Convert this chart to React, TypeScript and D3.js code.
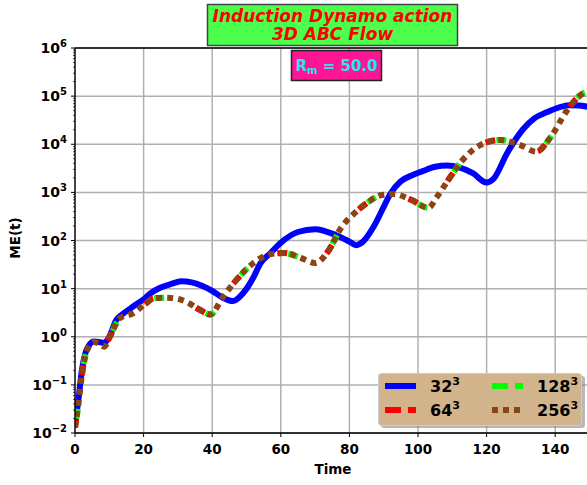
import React from 'react';
import * as d3 from 'd3';

// magnetic energy vs time
const time32 = [0, 1, 2, 3, 4, 5.5, 7, 8.5, 10, 12, 14, 16, 18, 20, 22, 25, 28, 31, 34, 37, 40, 43, 46, 49, 52, 54, 57, 60, 65, 70, 76, 80, 82, 84, 87, 90, 92, 95, 98.5, 101, 105, 108.5, 112, 116, 120, 122, 126, 130.5, 134, 137.5, 141, 144, 147, 150];
const me32 = [0.015, 0.05, 0.2, 0.45, 0.65, 0.8, 0.78, 0.74, 1.0, 2.2, 3.0, 3.8, 4.8, 6.0, 8.0, 10.5, 12.5, 14.2, 13.5, 11.5, 9.0, 6.5, 5.5, 8.0, 17, 33, 55, 90, 150, 172, 130, 95, 80, 95, 190, 500, 950, 1700, 2300, 2700, 3400, 3600, 3300, 2500, 1600, 1900, 6600, 20000, 35000, 46000, 58000, 65000, 64000, 59000];

const timeHi = [0, 1, 2, 3, 4, 5.5, 7, 8.5, 10, 13, 17, 20, 23, 26, 29, 32.5, 36.5, 39.5, 43, 47, 52, 57, 61, 66, 70, 74, 77.5, 81.5, 85.5, 89, 93, 98, 103, 105.5, 107.5, 113, 118, 124, 130, 134.5, 138.5, 143.5, 147, 150];
const meHi = [0.013, 0.04, 0.16, 0.4, 0.62, 0.78, 0.72, 0.62, 0.95, 2.4, 3.1, 4.5, 6.3, 6.5, 6.3, 5.3, 3.6, 2.9, 6.5, 15, 34, 52, 55, 43, 34, 63, 180, 370, 630, 870, 920, 700, 480, 800, 1300, 4700, 9500, 12300, 9500, 7000, 13500, 51000, 100000, 130000];
const me64 = meHi;
const me128 = meHi;
const me256 = meHi;

const xTicks = [0, 20, 40, 60, 80, 100, 120, 140];
const yExps = [-2, -1, 0, 1, 2, 3, 4, 5, 6];
const seriesLabels = ['32', '64', '128', '256'];

const W = 587;
const H = 485;
const FONT = 'DejaVu Sans, sans-serif';

const App: React.FC = () => {
  const x = d3.scaleLinear().domain([0, 150]).range([75, 589.5]);
  const y = d3.scaleLog().domain([1e-2, 1e6]).range([433, 48]);

  const mk = (ts: number[], vs: number[]) =>
    d3.line<number>().x((_, i) => x(ts[i])).y(d => y(d)).curve(d3.curveMonotoneX)(vs) || '';

  // plot dash (only peeks through the brown dots) vs legend dash
  const series = [
    { d: mk(time32, me32), color: '#0000ff', dash: undefined as string | undefined, legDash: undefined as string | undefined, off: 0, w: 6 },
    { d: mk(timeHi, me64), color: '#ff0000', dash: '10,45', legDash: '16,7', off: 2, w: 6 },
    { d: mk(timeHi, me128), color: '#00ff00', dash: '10,45', legDash: '16,7', off: -9, w: 6 },
    { d: mk(timeHi, me256), color: '#8b4513', dash: '6,5', legDash: '6,5', off: 0, w: 6 },
  ];

  const minor: number[] = [];
  for (let e = -2; e < 6; e++) for (let k = 2; k <= 9; k++) minor.push(k * Math.pow(10, e));

  const [x0, x1] = x.range();
  const [yb, yt] = y.range();

  return (
    <svg width={W} height={H} style={{ position: 'absolute', left: 0, top: 0, background: '#fff' }} fontFamily={FONT}>
      <defs>
        <clipPath id="plot">
          <rect x={x0} y={yt} width={x1 - x0} height={yb - yt} />
        </clipPath>
      </defs>

      {/* grid */}
      {xTicks.map(t => (
        <line key={'gx' + t} x1={x(t)} x2={x(t)} y1={yt} y2={yb} stroke="#b0b0b0" strokeWidth={1.5} />
      ))}
      {yExps.map(e => (
        <line key={'gy' + e} x1={x0} x2={x1} y1={y(Math.pow(10, e))} y2={y(Math.pow(10, e))} stroke="#b0b0b0" strokeWidth={1.5} />
      ))}

      {/* curves */}
      <g clipPath="url(#plot)" fill="none">
        {series.map((s, i) => (
          <path key={i} d={s.d} stroke={s.color} strokeWidth={s.w} strokeDasharray={s.dash} strokeDashoffset={s.off} />
        ))}
      </g>

      {/* spines */}
      <line x1={x0} x2={x0} y1={yt} y2={yb} stroke="#000" strokeWidth={1.3} />
      <line x1={x0} x2={x1} y1={yb} y2={yb} stroke="#000" strokeWidth={1.3} />
      <line x1={x0} x2={x1} y1={yt} y2={yt} stroke="#000" strokeWidth={1.3} />

      {/* x ticks */}
      {xTicks.map(t => (
        <g key={'xt' + t}>
          <line x1={x(t)} x2={x(t)} y1={yb} y2={yb + 4} stroke="#000" strokeWidth={1} />
          <text x={x(t)} y={454} textAnchor="middle" fontSize={13.5} fontWeight="bold">{t}</text>
        </g>
      ))}

      {/* y ticks */}
      {minor.map((v, i) => (
        <line key={'mn' + i} x1={x0 - 2} x2={x0} y1={y(v)} y2={y(v)} stroke="#000" strokeWidth={0.7} />
      ))}
      {yExps.map(e => (
        <g key={'yt' + e}>
          <line x1={x0 - 4} x2={x0} y1={y(Math.pow(10, e))} y2={y(Math.pow(10, e))} stroke="#000" strokeWidth={1} />
          <text x={x0 - 8} y={y(Math.pow(10, e)) + 5} textAnchor="end" fontSize={14} fontWeight="bold">
            10<tspan fontSize={10} dy={-6}>{e < 0 ? '\u2212' + Math.abs(e) : e}</tspan>
          </text>
        </g>
      ))}

      {/* axis labels */}
      <text x={333} y={474} textAnchor="middle" fontSize={13.5} fontWeight="bold">Time</text>
      <text transform="translate(20,238) rotate(-90)" textAnchor="middle" fontSize={13.5} fontWeight="bold">ME(t)</text>

      {/* title box */}
      <rect x={207.5} y={4.5} width={250} height={41} fill="#4dff4d" stroke="#444" strokeWidth={1.5} />
      <text x={332.5} y={21.5} textAnchor="middle" fontSize={17} fontWeight="bold" fontStyle="italic" fill="#ff0000">Induction Dynamo action</text>
      <text x={332.5} y={40} textAnchor="middle" fontSize={17} fontWeight="bold" fontStyle="italic" fill="#ff0000">3D ABC Flow</text>

      {/* Rm box */}
      <rect x={291.5} y={50.5} width={90} height={30} fill="#ff1493" stroke="#222" strokeWidth={1.5} />
      <text x={336.5} y={71} textAnchor="middle" fontSize={15} fontWeight="bold" fill="#22e6f0">
        R<tspan fontSize={10} dy={3}>m</tspan><tspan dy={-3}> = 50.0</tspan>
      </text>

      {/* legend */}
      <rect x={381} y={376} width={204} height={52} rx={3} fill="#888" opacity={0.6} />
      <rect x={378.5} y={373.5} width={203} height={52} rx={3} fill="#d2b48c" stroke="#ccc" strokeWidth={1} />
      {series.map((s, i) => {
        const col = i === 0 || i === 1 ? 0 : 1;
        const row = i === 0 || i === 2 ? 0 : 1;
        const lx = col === 0 ? 385 : 492;
        const ly = row === 0 ? 386 : 410;
        return (
          <g key={'lg' + i}>
            <line x1={lx} x2={lx + 31} y1={ly} y2={ly} stroke={s.color} strokeWidth={s.w} strokeDasharray={s.legDash} />
            <text x={lx + 45} y={ly + 6} fontSize={16} fontWeight="bold">
              {seriesLabels[i]}<tspan fontSize={11} dy={-7}>3</tspan>
            </text>
          </g>
        );
      })}
    </svg>
  );
};

export default App;
